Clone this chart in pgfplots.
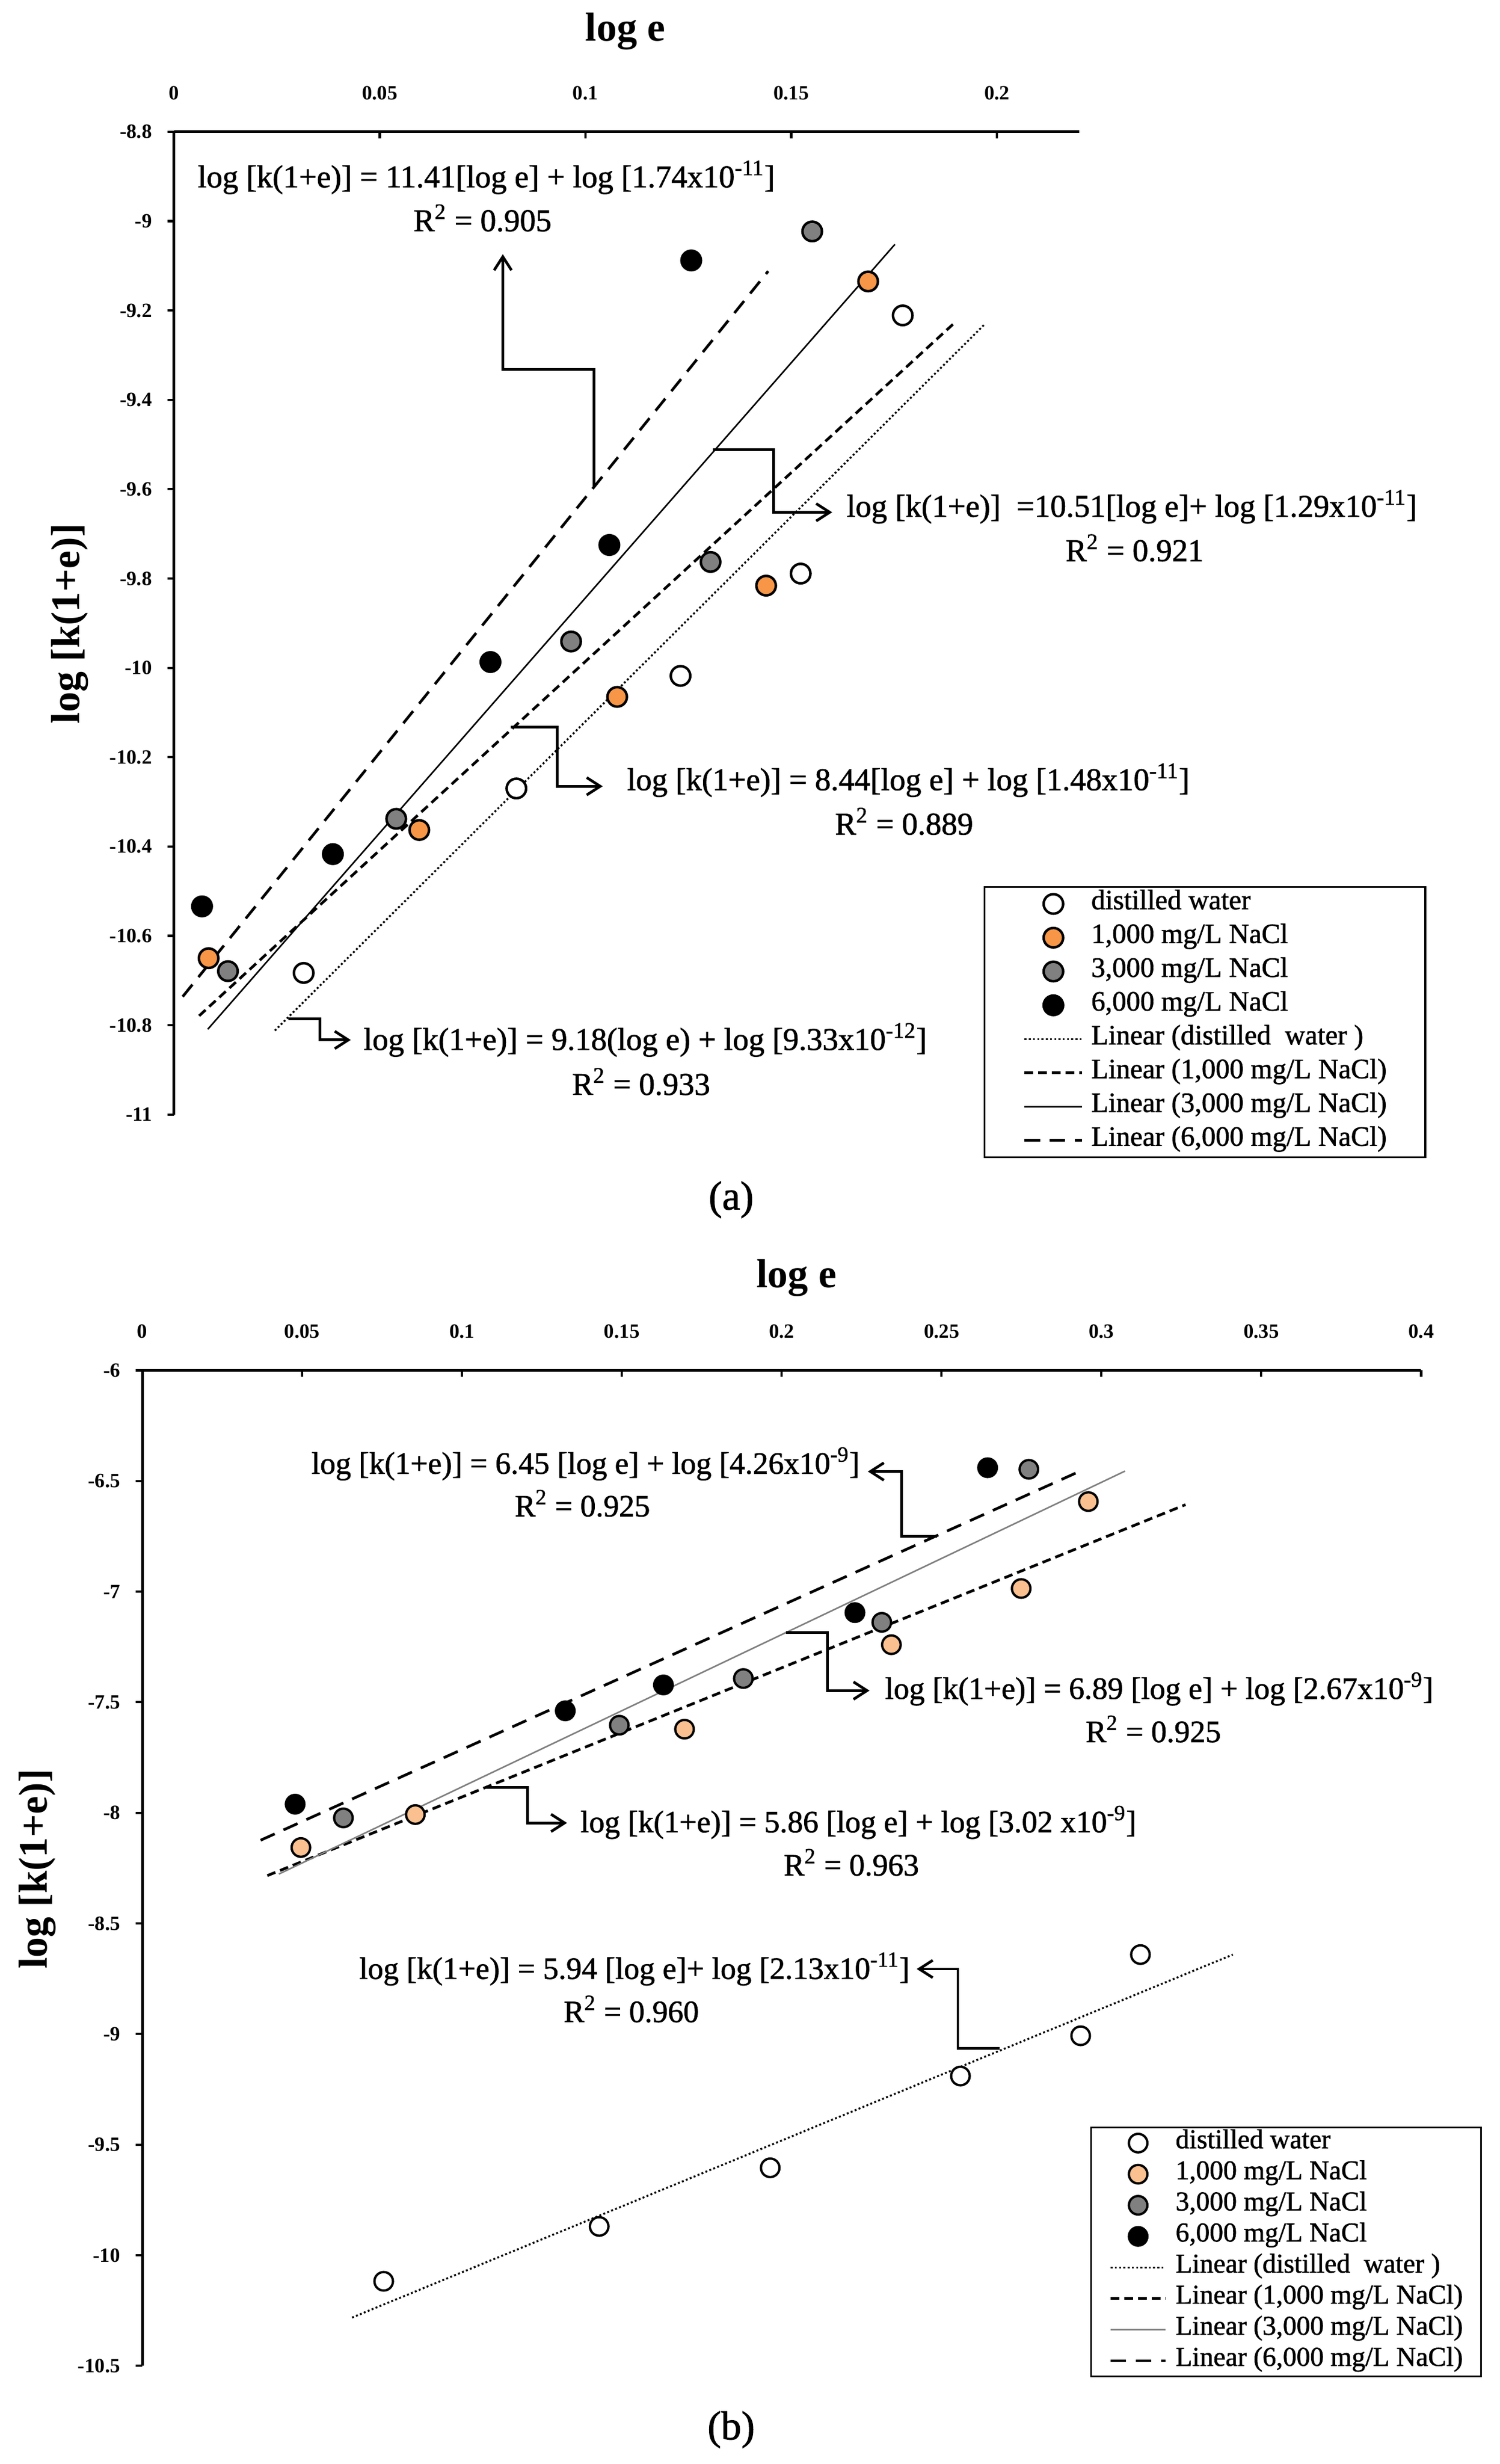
\documentclass[border=0pt]{standalone}
\usepackage{fontspec}
\setmainfont{Liberation Serif}
\newfontfamily\heavy{Liberation Serif}[FakeBold=1.3]
\usepackage{pgfplots}
\pgfplotsset{compat=1.18}
\usetikzlibrary{arrows.meta}
\definecolor{orangeA}{HTML}{F79646}
\definecolor{peachB}{HTML}{FAC090}
\definecolor{grayM}{HTML}{808080}
\newcommand{\eqf}{\heavy\fontsize{16.4}{19}\selectfont}
\newcommand{\eqb}{\heavy\fontsize{16.05}{19}\selectfont}
\newcommand{\ttf}{\fontsize{21}{24}\selectfont\bfseries}
\pgfplotsset{
  common/.style={
    scale only axis, clip=false,
    axis x line=top, axis y line=left,
    axis line style={-, line width=1.4pt, black},
    tick style={line width=1.2pt, black},
    major tick length=0.12cm,
    xtick align=inside, ytick align=outside,
    tick label style={font=\fontsize{10.5}{12}\selectfont\bfseries},
    xticklabel shift=13pt, yticklabel shift=4.5pt,
    legend cell align=left,
  },
  dl/.style={no markers, black, line width=1pt, dash pattern=on 1pt off 1.2pt},
  dk/.style={no markers, black, line width=1.4pt, dash pattern=on 4.5pt off 2.6pt},
  dlong/.style={no markers, black, line width=1.4pt, dash pattern=on 8pt off 5pt},
}
\begin{document}
\begin{tikzpicture}
\useasboundingbox (0,0) rectangle (27.31,-44.85);

% ---------------- (a) ----------------
\begin{axis}[common,
  at={(3.169cm,-2.399cm)}, anchor=north west,
  width=16.48cm, height=17.888cm,
  xmin=0, xmax=0.22, ymin=-11, ymax=-8.8,
  xtick={0,0.05,0.1,0.15,0.2}, xticklabels={0,0.05,0.1,0.15,0.2},
  ytick={-11,-10.8,-10.6,-10.4,-10.2,-10,-9.8,-9.6,-9.4,-9.2,-9,-8.8},
  yticklabels={-11,-10.8,-10.6,-10.4,-10.2,-10,-9.8,-9.6,-9.4,-9.2,-9,-8.8},
  legend image code/.code={\draw[mark repeat=2,mark phase=2,#1] plot coordinates {(0cm,0cm) (0.525cm,0cm) (1.05cm,0cm)};},
  legend style={at={(0.8945,0.2324)}, anchor=north west, draw=black, line width=0.9pt,
    font=\heavy\fontsize{14.5}{17}\selectfont, inner xsep=20pt, inner ysep=0pt, row sep=0pt,
    nodes={inner sep=0pt, text height=11.5pt, text depth=6pt},
    /tikz/every odd column/.append style={column sep=4pt}},
]
\addplot[only marks, mark=*, mark size=5.05pt, mark options={draw=black, fill=white, line width=1.3pt}]
  coordinates {(0.0315,-10.683) (0.0832,-10.270) (0.1231,-10.018) (0.1523,-9.789) (0.1771,-9.211)};
\addlegendentry{distilled water}
\addplot[only marks, mark=*, mark size=5.05pt, mark options={draw=black, fill=orangeA, line width=1.3pt}]
  coordinates {(0.0084,-10.650) (0.0596,-10.363) (0.1077,-10.065) (0.1439,-9.816) (0.1687,-9.135)};
\addlegendentry{1,000 mg/L NaCl}
\addplot[only marks, mark=*, mark size=5.05pt, mark options={draw=black, fill=grayM, line width=1.3pt}]
  coordinates {(0.0131,-10.679) (0.0540,-10.338) (0.0965,-9.941) (0.1304,-9.763) (0.1551,-9.023)};
\addlegendentry{3,000 mg/L NaCl}
\addplot[only marks, mark=*, mark size=5.05pt, mark options={draw=black, fill=black, line width=1.3pt}]
  coordinates {(0.0068,-10.534) (0.0386,-10.417) (0.0769,-9.987) (0.1058,-9.725) (0.1257,-9.088)};
\addlegendentry{6,000 mg/L NaCl}
\addplot[dl] coordinates {(0.0245,-10.812) (0.1970,-9.231)};
\addlegendentry{Linear (distilled\ \ water )}
\addplot[dk] coordinates {(0.0061,-10.779) (0.1893,-9.231)};
\addlegendentry{Linear (1,000 mg/L NaCl)}
\addplot[no markers, black, line width=0.8pt] coordinates {(0.0082,-10.809) (0.1752,-9.052)};
\addlegendentry{Linear (3,000 mg/L NaCl)}
\addplot[dlong] coordinates {(0.0021,-10.736) (0.1444,-9.112)};
\addlegendentry{Linear (6,000 mg/L NaCl)}
\end{axis}

% ---------------- (b) ----------------
\begin{axis}[common,
  at={(2.591cm,-24.944cm)}, anchor=north west,
  width=23.283cm, height=18.118cm,
  xmin=0, xmax=0.4, ymin=-10.5, ymax=-6,
  xtick={0,0.05,0.1,0.15,0.2,0.25,0.3,0.35,0.4},
  xticklabels={0,0.05,0.1,0.15,0.2,0.25,0.3,0.35,0.4},
  ytick={-10.5,-10,-9.5,-9,-8.5,-8,-7.5,-7,-6.5,-6},
  yticklabels={-10.5,-10,-9.5,-9,-8.5,-8,-7.5,-7,-6.5,-6},
  legend image code/.code={\draw[mark repeat=2,mark phase=2,#1] plot coordinates {(0cm,0cm) (0.5cm,0cm) (1.0cm,0cm)};},
  legend style={at={(0.7413,0.2402)}, anchor=north west, draw=black, line width=0.9pt,
    font=\heavy\fontsize{14.1}{16.5}\selectfont, inner xsep=9.4pt, inner ysep=0pt, row sep=0pt,
    nodes={inner sep=0pt, text height=10.7pt, text depth=5.4pt},
    /tikz/every odd column/.append style={column sep=4.5pt}},
]
\addplot[only marks, mark=*, mark size=4.8pt, mark options={draw=black, fill=white, line width=1.2pt}]
  coordinates {(0.0755,-10.118) (0.1429,-9.870) (0.1964,-9.605) (0.2559,-9.190) (0.2935,-9.008) (0.3122,-8.641)};
\addlegendentry{distilled water}
\addplot[only marks, mark=*, mark size=4.8pt, mark options={draw=black, fill=peachB, line width=1.2pt}]
  coordinates {(0.0496,-8.157) (0.0854,-8.008) (0.1696,-7.622) (0.2343,-7.240) (0.2749,-6.986) (0.2959,-6.593)};
\addlegendentry{1,000 mg/L NaCl}
\addplot[only marks, mark=*, mark size=4.8pt, mark options={draw=black, fill=grayM, line width=1.2pt}]
  coordinates {(0.0629,-8.023) (0.1492,-7.604) (0.1880,-7.393) (0.2313,-7.139) (0.2773,-6.447)};
\addlegendentry{3,000 mg/L NaCl}
\addplot[only marks, mark=*, mark size=4.8pt, mark options={draw=black, fill=black, line width=1.2pt}]
  coordinates {(0.0478,-7.961) (0.1323,-7.539) (0.1630,-7.422) (0.2229,-7.095) (0.2644,-6.440)};
\addlegendentry{6,000 mg/L NaCl}
\addplot[dl] coordinates {(0.0656,-10.282) (0.3411,-8.641)};
\addlegendentry{Linear (distilled\ \ water )}
\addplot[dk] coordinates {(0.0391,-8.284) (0.3263,-6.607)};
\addlegendentry{Linear (1,000 mg/L NaCl)}
\addplot[no markers, grayM, line width=0.8pt] coordinates {(0.0427,-8.277) (0.3074,-6.455)};
\addlegendentry{Linear (3,000 mg/L NaCl)}
\addplot[dlong] coordinates {(0.0370,-8.124) (0.2923,-6.462)};
\addlegendentry{Linear (6,000 mg/L NaCl)}
\end{axis}

% ---------------- texts and connectors ----------------
\begin{scope}[x=0.01cm, y=-0.01cm]
\tikzset{conn/.style={line width=1.4pt, black, -{Straight Barb[length=7pt,width=9pt,line width=1.4pt]}}}
% titles
\node[anchor=base, font=\ttf] at (1139,75) {log e};
\node[anchor=base, font=\ttf] at (1451,2345) {log e};
\node[anchor=base, rotate=90, font=\ttf] at (145,1136) {log [k(1+e)]};
\node[anchor=base, rotate=90, font=\ttf] at (86,3404) {log [k(1+e)]};
\node[font=\heavy\fontsize{21}{24}\selectfont] at (1332,2185) {(a)};
\node[font=\heavy\fontsize{21}{24}\selectfont] at (1332,4425) {(b)};
% (a) equations
\node[anchor=west, font=\eqf] at (348,323) {log [k(1+e)] = 11.41[log e] + log [1.74x10\textsuperscript{-11}]};
\node[font=\eqf] at (879,397) {R\textsuperscript{2} = 0.905};
\draw[conn] (1082,887) -- (1082,673) -- (916,673) -- (916,463);
\node[anchor=west, font=\eqf] at (1530,923) {log [k(1+e)]\ \ =10.51[log e]+ log [1.29x10\textsuperscript{-11}]};
\node[font=\eqf] at (2067,998) {R\textsuperscript{2} = 0.921};
\draw[conn] (1299,819) -- (1409,819) -- (1409,933) -- (1516,933);
\node[anchor=west, font=\eqf] at (1130,1421) {log [k(1+e)] = 8.44[log e] + log [1.48x10\textsuperscript{-11}]};
\node[font=\eqf] at (1647,1496) {R\textsuperscript{2} = 0.889};
\draw[conn] (931,1324) -- (1015,1324) -- (1015,1432) -- (1098,1432);
\node[anchor=west, font=\eqf] at (650,1894) {log [k(1+e)] = 9.18(log e) + log [9.33x10\textsuperscript{-12}]};
\node[font=\eqf] at (1168,1970) {R\textsuperscript{2} = 0.933};
\draw[conn] (525,1856) -- (583,1856) -- (583,1894) -- (639,1894);
% (b) equations
\node[anchor=west, font=\eqb] at (555,2666) {log [k(1+e)] = 6.45 [log e] + log [4.26x10\textsuperscript{-9}]};
\node[font=\eqb] at (1061,2738) {R\textsuperscript{2} = 0.925};
\draw[conn] (1707,2798) -- (1642,2798) -- (1642,2680) -- (1581,2680);
\node[anchor=west, font=\eqb] at (1600,3076) {log [k(1+e)] = 6.89 [log e] + log [2.67x10\textsuperscript{-9}]};
\node[font=\eqb] at (2101,3149) {R\textsuperscript{2} = 0.925};
\draw[conn] (1432,2973) -- (1507,2973) -- (1507,3079) -- (1584,3079);
\node[anchor=west, font=\eqb] at (1045,3319) {log [k(1+e)] = 5.86 [log e] + log [3.02 x10\textsuperscript{-9}]};
\node[font=\eqb] at (1551,3392) {R\textsuperscript{2} = 0.963};
\draw[conn] (884,3255) -- (961,3255) -- (961,3320) -- (1033,3320);
\node[anchor=west, font=\eqb] at (642,3586) {log [k(1+e)] = 5.94 [log e]+ log [2.13x10\textsuperscript{-11}]};
\node[font=\eqb] at (1150,3659) {R\textsuperscript{2} = 0.960};
\draw[conn] (1821,3731) -- (1745,3731) -- (1745,3586) -- (1670,3586);
\end{scope}
\end{tikzpicture}
\end{document}
